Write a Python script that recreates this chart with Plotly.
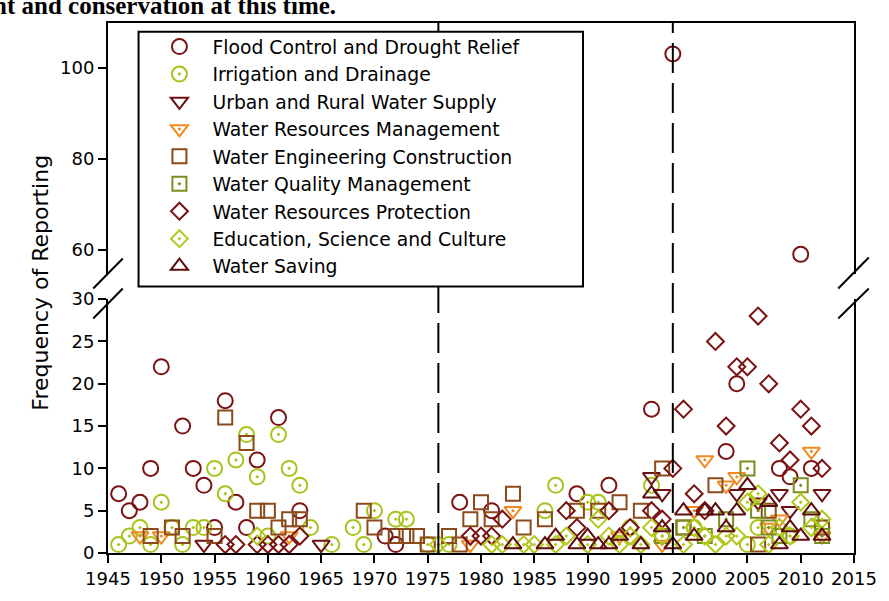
import plotly.graph_objects as go

# ---- data: reporting frequency by year and category ----
flood_years = [1946, 1947, 1948, 1949, 1950, 1952, 1953, 1954, 1955, 1956, 1957, 1958, 1959, 1961,
               1963, 1971, 1972, 1978, 1981, 1989, 1992, 1996, 1998, 2003, 2004, 2008, 2009, 2010, 2011]
flood_vals = [7, 5, 6, 10, 22, 15, 10, 8, 3, 18, 6, 3, 11, 16,
              5, 2, 1, 6, 5, 7, 8, 17, 103, 12, 20, 10, 9, 59, 10]

irr_years = [1946, 1947, 1948, 1949, 1950, 1951, 1952, 1953, 1954, 1955, 1956, 1957, 1958, 1959,
             1960, 1961, 1962, 1963, 1964, 1966, 1968, 1969, 1970, 1972, 1973, 1975, 1977, 1986,
             1987, 1990, 1991, 1994, 1996, 2000, 2005, 2006, 2009, 2012]
irr_vals = [1, 2, 3, 1, 6, 3, 1, 3, 3, 10, 7, 11, 14, 9,
            2, 14, 10, 8, 3, 1, 3, 1, 5, 4, 4, 1, 1, 5,
            8, 6, 6, 3, 8, 3, 1, 3, 2, 3]

urban_years = [1954, 1965, 1996, 1997, 2000, 2004, 2006, 2008, 2009, 2012]
urban_vals = [1, 1, 9, 7, 5, 7, 6, 7, 5, 7]

wrm_years = [1948, 1950, 1962, 1979, 1983, 1993, 1997, 2000, 2001, 2003, 2004, 2007, 2008, 2011, 2012]
wrm_vals = [2, 2, 2, 1, 5, 2, 1, 5, 11, 8, 9, 3, 4, 12, 2]

wec_years = [1949, 1951, 1952, 1955, 1956, 1958, 1959, 1960, 1961, 1962, 1963, 1969, 1970, 1972,
             1973, 1974, 1975, 1977, 1978, 1979, 1980, 1981, 1983, 1984, 1986, 1989, 1991, 1993,
             1995, 1997, 1999, 2002, 2006, 2007, 2012]
wec_vals = [2, 3, 2, 2, 16, 13, 5, 5, 3, 4, 4, 5, 3, 2,
            2, 2, 1, 2, 1, 4, 6, 4, 7, 3, 4, 5, 5, 6,
            5, 10, 3, 8, 1, 5, 3]

wqm_years = [1997, 1999, 2001, 2003, 2005, 2006, 2007, 2008, 2010, 2011, 2012]
wqm_vals = [2, 3, 2, 4, 10, 5, 3, 2, 8, 4, 2]

wrp_years = [1956, 1957, 1959, 1960, 1961, 1962, 1963, 1979, 1980, 1981, 1982, 1988, 1989, 1992,
             1994, 1996, 1997, 1998, 1999, 2000, 2001, 2002, 2003, 2004, 2005, 2006, 2007, 2008,
             2009, 2010, 2011, 2012]
wrp_vals = [1, 1, 1, 1, 1, 1, 2, 2, 2, 2, 4, 5, 3, 5,
            3, 5, 4, 10, 17, 7, 5, 25, 15, 22, 22, 28, 20, 13,
            11, 17, 15, 10]

edu_years = [1959, 1976, 1981, 1982, 1984, 1985, 1987, 1988, 1990, 1991, 1992, 1993, 1994, 1995,
             1996, 1997, 1999, 2000, 2001, 2002, 2003, 2004, 2005, 2006, 2007, 2008, 2009, 2010,
             2011, 2012]
edu_vals = [2, 1, 1, 1, 1, 1, 1, 2, 1, 4, 2, 1, 2, 1,
            3, 2, 1, 3, 2, 1, 2, 2, 6, 7, 1, 3, 2, 6,
            3, 4]

ws_years = [1983, 1986, 1987, 1989, 1990, 1991, 1992, 1993, 1995, 1996, 1997, 1998, 1999, 2000,
            2001, 2002, 2003, 2004, 2005, 2007, 2008, 2009, 2010, 2011, 2012]
ws_vals = [1, 1, 2, 1, 2, 1, 1, 2, 1, 7, 3, 1, 5, 2,
           5, 5, 3, 5, 8, 6, 1, 3, 2, 5, 2]

x_ticks = list(range(1945, 2016, 5))
low_ticks = [0, 5, 10, 15, 20, 25, 30]
high_ticks = [60, 80, 100]
break_value = 30
period_marks = [1976, 1998]

series = [
    ("Flood Control and Drought Relief", flood_years, flood_vals, "circle-open", "#7b1214", 15),
    ("Irrigation and Drainage", irr_years, irr_vals, "circle-open-dot", "#a8c41c", 15),
    ("Urban and Rural Water Supply", urban_years, urban_vals, "triangle-down-open", "#6e1010", 15),
    ("Water Resources Management", wrm_years, wrm_vals, "triangle-down-open-dot", "#f28a22", 15),
    ("Water Engineering Construction", wec_years, wec_vals, "square-open", "#8c4a1a", 14),
    ("Water Quality Management", wqm_years, wqm_vals, "square-open-dot", "#7d8c1e", 14),
    ("Water Resources Protection", wrp_years, wrp_vals, "diamond-open", "#7a1212", 13),
    ("Education, Science and Culture", edu_years, edu_vals, "diamond-open-dot", "#b2c81d", 13),
    ("Water Saving", ws_years, ws_vals, "triangle-up-open", "#5e0d0d", 15),
]

fig = go.Figure()
for name, xs, ys, sym, col, size in series:
    marker = dict(symbol=sym, size=size, color=col, line=dict(color=col, width=2))
    lo = [(x, y) for x, y in zip(xs, ys) if y <= break_value]
    hi = [(x, y) for x, y in zip(xs, ys) if y > break_value]
    fig.add_trace(go.Scatter(x=[p[0] for p in lo], y=[p[1] for p in lo], mode="markers",
                             name=name, marker=marker, xaxis="x", yaxis="y",
                             cliponaxis=False))
    if hi:
        fig.add_trace(go.Scatter(x=[p[0] for p in hi], y=[p[1] for p in hi], mode="markers",
                                 name=name, marker=marker, xaxis="x2", yaxis="y2",
                                 showlegend=False, cliponaxis=False))

# plot area in pixels: left 108, right 865, top 13, bottom 560
W, H = 889, 601
L, R, T, B = 108, 865, 13, 560
pw, ph = R - L, B - T


def px(xp):
    return (xp - L) / pw


def py(yp):
    return (B - yp) / ph


SANS = "DejaVu Sans, Verdana, sans-serif"
axis_font = dict(family=SANS, size=18, color="black")
common = dict(showgrid=False, zeroline=False, showline=True, linecolor="black", linewidth=2,
              ticks="outside", ticklen=8, tickwidth=1.5, tickcolor="black", tickfont=axis_font)

fig.update_layout(
    width=W, height=H,
    margin=dict(l=L, r=W - R, t=T, b=H - B),
    plot_bgcolor="white", paper_bgcolor="white",
    xaxis=dict(domain=[0, 1], range=[1945, 2015], tickvals=x_ticks, anchor="y", **common),
    xaxis2=dict(domain=[0, 1], range=[1945, 2015], anchor="y2", side="top", showticklabels=False,
                showgrid=False, zeroline=False, showline=True, linecolor="black", linewidth=2,
                ticks=""),
    yaxis=dict(domain=[0, py(298)], range=[0, 30], tickvals=low_ticks, anchor="x", mirror=True,
               **common),
    yaxis2=dict(domain=[py(272), 1], range=[54.7, 109.8], tickvals=high_ticks, anchor="x2",
                mirror=True, **common),
    showlegend=True,
    legend=dict(x=px(147), y=py(18), xanchor="left", yanchor="top",
                bgcolor="rgba(0,0,0,0)", borderwidth=0, itemwidth=56,
                font=dict(family=SANS, size=18.8, color="black")),
)

shapes = []
for yr in period_marks:
    shapes.append(dict(type="line", xref="x", yref="paper", x0=yr, x1=yr, y0=0, y1=1,
                       line=dict(color="black", width=2, dash="30px,10px"), layer="above"))
# legend frame
shapes.append(dict(type="rect", xref="paper", yref="paper", x0=px(139), x1=px(590),
                   y0=py(285), y1=py(22), line=dict(color="black", width=2),
                   fillcolor="white", layer="above"))
# axis break marks
for (x0, y0, x1, y1) in [(93, 287, 123, 256), (93, 318, 123, 287),
                         (849, 287, 880, 255), (849, 318, 880, 287)]:
    shapes.append(dict(type="line", xref="paper", yref="paper", x0=px(x0), y0=py(y0),
                       x1=px(x1), y1=py(y1), line=dict(color="black", width=2), layer="above"))
fig.update_layout(shapes=shapes)

fig.add_annotation(text="Frequency of Reporting", textangle=-90, xref="paper", yref="paper",
                   x=px(40), y=py(281), showarrow=False, xanchor="center", yanchor="middle",
                   font=dict(family=SANS, size=22, color="black"))
fig.add_annotation(text="<b>nt and conservation at this time.</b>", xref="paper", yref="paper",
                   x=px(-11), y=py(11), xanchor="left", yanchor="bottom", showarrow=False,
                   font=dict(family="Liberation Serif, Times New Roman, serif", size=25,
                             color="black"))

fig.write_html("out.html")
